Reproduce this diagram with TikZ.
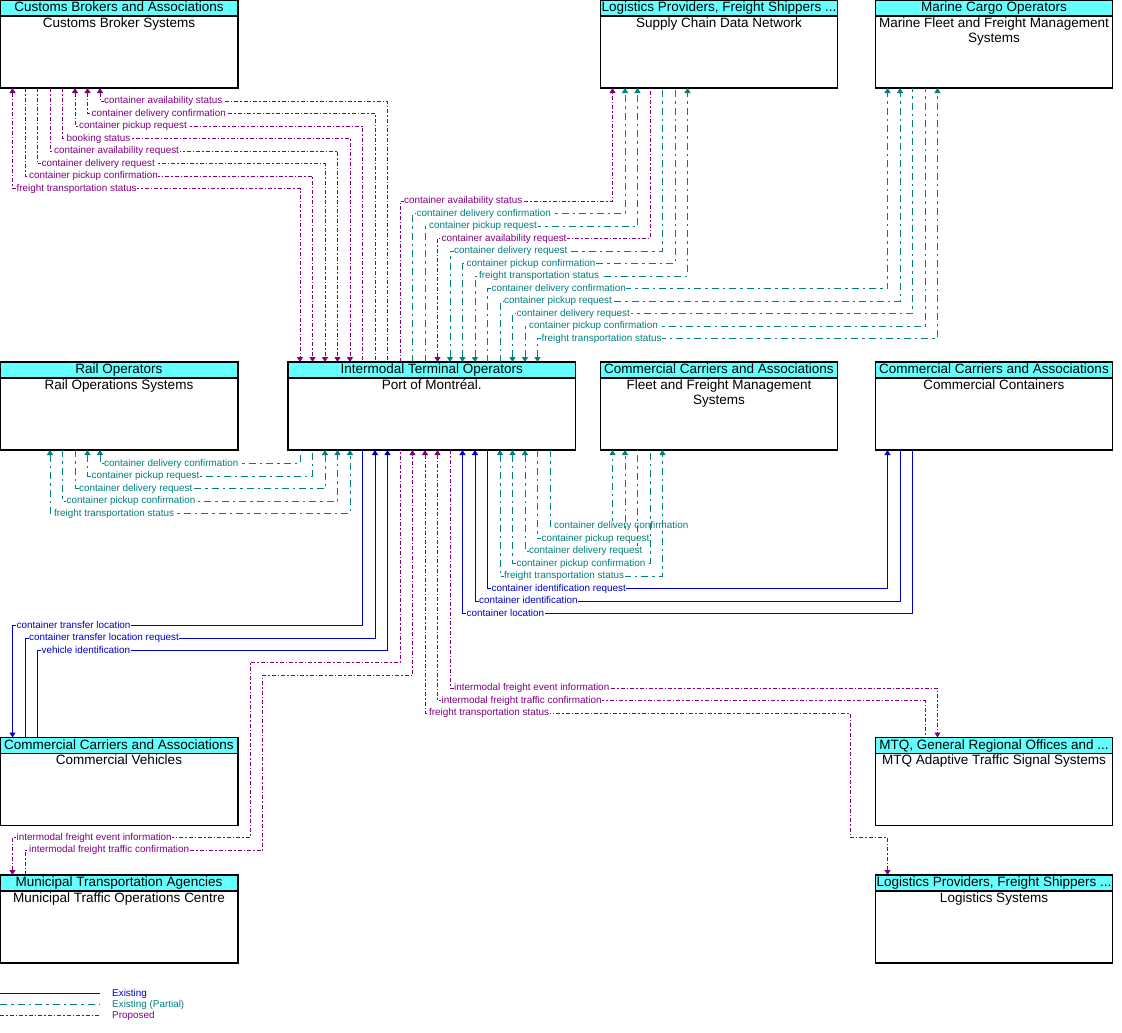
\documentclass[tikz,border=0pt]{standalone}
\usepackage{fontspec}
\setmainfont{Liberation Sans}
\usetikzlibrary{arrows.meta}

\definecolor{existblue}{RGB}{0,0,204}
\definecolor{partteal}{RGB}{0,128,128}
\definecolor{proppurple}{RGB}{128,0,128}
\definecolor{headcyan}{RGB}{102,255,255}

\newcommand\labfont{\fontsize{9.9}{10}\selectfont}
\newcommand\boxfont{\fontsize{13.5}{15}\selectfont}

\begin{document}
\begin{tikzpicture}[x=1pt, y=-1pt, >={Triangle[width=6pt,length=5pt]}]
    \useasboundingbox (0,0) rectangle (1122,1033);

    \tikzstyle{sysbox} = [draw, line width=1.2pt, minimum width=238pt, minimum height=88pt, anchor=north west, inner sep=0pt, outer sep=0pt]
    \tikzstyle{syshead} = [draw, line width=1.2pt, fill=headcyan, minimum width=238pt, minimum height=16pt, anchor=north, inner sep=0pt, outer sep=0pt, font=\boxfont, text height=10pt, text depth=3pt]
    \tikzstyle{sysbody} = [anchor=north, align=center, inner sep=1.5pt, font=\boxfont]
    \tikzstyle{exist} = [color=existblue, line width=1pt]
    \tikzstyle{part} = [color=partteal, line width=1pt, dash pattern=on 7pt off 4pt on 2.5pt off 4pt]
    \tikzstyle{prop} = [color=proppurple, line width=1pt, dash pattern=on 4pt off 2pt on 1.5pt off 2pt]
    \tikzstyle{lab} = [anchor=west, xshift=3pt, fill=white, inner sep=0.6pt, font=\labfont, text height=7pt, text depth=2pt]

    \node[sysbox] (cb) at (0,0) {};
    \node[syshead] (cbh) at (cb.north) {Customs Brokers and Associations};
    \node[sysbody] (cbt) at (cbh.south) {Customs Broker Systems};

    \node[sysbox, minimum width=237pt] (sc) at (600.5,0) {};
    \node[syshead, minimum width=237pt] (sch) at (sc.north) {Logistics Providers, Freight Shippers ...};
    \node[sysbody] (sct) at (sch.south) {Supply Chain Data Network};

    \node[sysbox, minimum width=237pt] (mf) at (875.5,0) {};
    \node[syshead, minimum width=237pt] (mfh) at (mf.north) {Marine Cargo Operators};
    \node[sysbody] (mft) at (mfh.south) {Marine Fleet and Freight Management\\Systems};

    \node[sysbox] (rail) at (0,362) {};
    \node[syshead] (railh) at (rail.north) {Rail Operators};
    \node[sysbody] (railt) at (railh.south) {Rail Operations Systems};

    \node[sysbox, minimum width=287.5pt] (port) at (288,362) {};
    \node[syshead, minimum width=287.5pt] (porth) at (port.north) {Intermodal Terminal Operators};
    \node[sysbody] (portt) at (porth.south) {Port of Montréal.};

    \node[sysbox, minimum width=237pt] (fleet) at (600.5,362) {};
    \node[syshead, minimum width=237pt] (fleeth) at (fleet.north) {Commercial Carriers and Associations};
    \node[sysbody] (fleett) at (fleeth.south) {Fleet and Freight Management\\Systems};

    \node[sysbox, minimum width=237pt] (cc) at (875.5,362) {};
    \node[syshead, minimum width=237pt] (cch) at (cc.north) {Commercial Carriers and Associations};
    \node[sysbody] (cct) at (cch.south) {Commercial Containers};

    \node[sysbox] (cv) at (0,737.5) {};
    \node[syshead] (cvh) at (cv.north) {Commercial Carriers and Associations};
    \node[sysbody] (cvt) at (cvh.south) {Commercial Vehicles};

    \node[sysbox, minimum width=237pt] (mtq) at (875.5,737.5) {};
    \node[syshead, minimum width=237pt] (mtqh) at (mtq.north) {MTQ, General Regional Offices and ...};
    \node[sysbody] (mtqt) at (mtqh.south) {MTQ Adaptive Traffic Signal Systems};

    \node[sysbox] (muni) at (0,875) {};
    \node[syshead] (munih) at (muni.north) {Municipal Transportation Agencies};
    \node[sysbody] (munit) at (munih.south) {Municipal Traffic Operations Centre};

    \node[sysbox, minimum width=237pt] (lsys) at (875.5,875) {};
    \node[syshead, minimum width=237pt] (lsysh) at (lsys.north) {Logistics Providers, Freight Shippers ...};
    \node[sysbody] (lsyst) at (lsysh.south) {Logistics Systems};

    \draw[prop,<-] ([xshift=100pt]cb.south west) -- ++(0,13) node[lab]{container availability status} -| ([xshift=99.5pt]port.north west);
    \draw[prop,<-] ([xshift=87.5pt]cb.south west) -- ++(0,25.5) node[lab]{container delivery confirmation} -| ([xshift=87pt]port.north west);
    \draw[prop,<-] ([xshift=75pt]cb.south west) -- ++(0,38) node[lab]{container pickup request} -| ([xshift=74.5pt]port.north west);
    \draw[prop,->] ([xshift=62.5pt]cb.south west) -- ++(0,50.5) node[lab]{booking status} -| ([xshift=62pt]port.north west);
    \draw[prop,->] ([xshift=50pt]cb.south west) -- ++(0,63) node[lab]{container availability request} -| ([xshift=49.5pt]port.north west);
    \draw[prop,->] ([xshift=37.5pt]cb.south west) -- ++(0,75.5) node[lab]{container delivery request} -| ([xshift=37pt]port.north west);
    \draw[prop,->] ([xshift=25pt]cb.south west) -- ++(0,88) node[lab]{container pickup confirmation} -| ([xshift=24.5pt]port.north west);
    \draw[prop,<->] ([xshift=12.5pt]cb.south west) -- ++(0,100.5) node[lab]{freight transportation status} -| ([xshift=12pt]port.north west);

    \draw[prop,->] ([xshift=112pt]port.north west) -- ++(0,-161) node[lab]{container availability status} -| ([xshift=12pt]sc.south west);
    \draw[part,->] ([xshift=124.5pt]port.north west) -- ++(0,-148.5) node[lab]{container delivery confirmation} -| ([xshift=24.5pt]sc.south west);
    \draw[part,->] ([xshift=137pt]port.north west) -- ++(0,-136) node[lab]{container pickup request} -| ([xshift=37pt]sc.south west);
    \draw[prop,<-] ([xshift=149.5pt]port.north west) -- ++(0,-123.5) node[lab]{container availability request} -| ([xshift=49.5pt]sc.south west);
    \draw[part,<-] ([xshift=162pt]port.north west) -- ++(0,-111) node[lab]{container delivery request} -| ([xshift=62pt]sc.south west);
    \draw[part,<-] ([xshift=174.5pt]port.north west) -- ++(0,-98.5) node[lab]{container pickup confirmation} -| ([xshift=74.5pt]sc.south west);
    \draw[part,<->] ([xshift=187pt]port.north west) -- ++(0,-86) node[lab]{freight transportation status} -| ([xshift=87pt]sc.south west);

    \draw[part,->] ([xshift=199.5pt]port.north west) -- ++(0,-73.5) node[lab]{container delivery confirmation} -| ([xshift=12pt]mf.south west);
    \draw[part,->] ([xshift=212pt]port.north west) -- ++(0,-61) node[lab]{container pickup request} -| ([xshift=24.5pt]mf.south west);
    \draw[part,<-] ([xshift=224.5pt]port.north west) -- ++(0,-48.5) node[lab]{container delivery request} -| ([xshift=37pt]mf.south west);
    \draw[part,<-] ([xshift=237pt]port.north west) -- ++(0,-36) node[lab]{container pickup confirmation} -| ([xshift=49.5pt]mf.south west);
    \draw[part,<->] ([xshift=249.5pt]port.north west) -- ++(0,-23.5) node[lab]{freight transportation status} -| ([xshift=62pt]mf.south west);

    \draw[part,<-] ([xshift=100pt]rail.south west) -- ++(0,13.5) node[lab]{container delivery confirmation} -| ([xshift=12pt]port.south west);
    \draw[part,<-] ([xshift=87.5pt]rail.south west) -- ++(0,26) node[lab]{container pickup request} -| ([xshift=24.5pt]port.south west);
    \draw[part,->] ([xshift=75pt]rail.south west) -- ++(0,38.5) node[lab]{container delivery request} -| ([xshift=37pt]port.south west);
    \draw[part,->] ([xshift=62.5pt]rail.south west) -- ++(0,51) node[lab]{container pickup confirmation} -| ([xshift=49.5pt]port.south west);
    \draw[part,<->] ([xshift=50pt]rail.south west) -- ++(0,63.5) node[lab]{freight transportation status} -| ([xshift=62pt]port.south west);

    \draw[exist,<-] ([xshift=12.5pt]cv.north west) -- ++(0,-112) node[lab]{container transfer location} -| ([xshift=74.5pt]port.south west);
    \draw[exist,->] ([xshift=25pt]cv.north west) -- ++(0,-99.5) node[lab]{container transfer location request} -| ([xshift=87pt]port.south west);
    \draw[exist,->] ([xshift=37.5pt]cv.north west) -- ++(0,-87) node[lab]{vehicle identification} -| ([xshift=99.5pt]port.south west);

    \draw[part,->] ([xshift=262pt]port.south west) -- ++(0,76) node[lab]{container delivery confirmation} -| ([xshift=12pt]fleet.south west);
    \draw[part,->] ([xshift=249.5pt]port.south west) -- ++(0,88.5) node[lab]{container pickup request} -| ([xshift=24.5pt]fleet.south west);
    \draw[part,<-] ([xshift=237pt]port.south west) -- ++(0,101) node[lab]{container delivery request} -| ([xshift=37pt]fleet.south west);
    \draw[part,<-] ([xshift=224.5pt]port.south west) -- ++(0,113.5) node[lab]{container pickup confirmation} -| ([xshift=49.5pt]fleet.south west);
    \draw[part,<->] ([xshift=212pt]port.south west) -- ++(0,126) node[lab]{freight transportation status} -| ([xshift=62pt]fleet.south west);

    \draw[exist,->] ([xshift=199.5pt]port.south west) -- ++(0,138.5) node[lab]{container identification request} -| ([xshift=12pt]cc.south west);
    \draw[exist,<-] ([xshift=187pt]port.south west) -- ++(0,151) node[lab]{container identification} -| ([xshift=24.5pt]cc.south west);
    \draw[exist,<-] ([xshift=174.5pt]port.south west) -- ++(0,163.5) node[lab]{container location} -| ([xshift=37pt]cc.south west);

    \draw[prop,->] ([xshift=162pt]port.south west) -- ++(0,238) node[lab]{intermodal freight event information} -| ([xshift=62pt]mtq.north west);
    \draw[prop,<-] ([xshift=149.5pt]port.south west) -- ++(0,250.5) node[lab]{intermodal freight traffic confirmation} -| ([xshift=49.5pt]mtq.north west);
    \draw[prop,<->] ([xshift=137pt]port.south west) -- ++(0,263) node[lab]{freight transportation status} -| ++(425,124.5) -| ([xshift=12pt]lsys.north west);

    \draw[prop,<-] ([xshift=12.5pt]muni.north west) -- ++(0,-37.5) node[lab]{intermodal freight event information} -| ++(237.5,-175) -| ([xshift=112pt]port.south west);
    \draw[prop,->] ([xshift=25pt]muni.north west) -- ++(0,-25) node[lab]{intermodal freight traffic confirmation} -| ++(237.5,-175) -| ([xshift=124.5pt]port.south west);

    \node[anchor=west, inner sep=1pt, font=\labfont, text=existblue] (lgex) at (111,993.5) {Existing};
    \node[anchor=west, inner sep=1pt, font=\labfont, text=partteal] (lgpa) at (111,1004.5) {Existing (Partial)};
    \node[anchor=west, inner sep=1pt, font=\labfont, text=proppurple] (lgpr) at (111,1015.5) {Proposed};
    \coordinate (lgex0) at (0,993.5);
    \coordinate (lgpa0) at (0,1004.5);
    \coordinate (lgpr0) at (0,1015.5);
    \draw[exist] (lgex0) -- ([xshift=-11pt]lgex.west);
    \draw[part] (lgpa0) -- ([xshift=-11pt]lgpa.west);
    \draw[prop] (lgpr0) -- ([xshift=-11pt]lgpr.west);
\end{tikzpicture}
\end{document}
